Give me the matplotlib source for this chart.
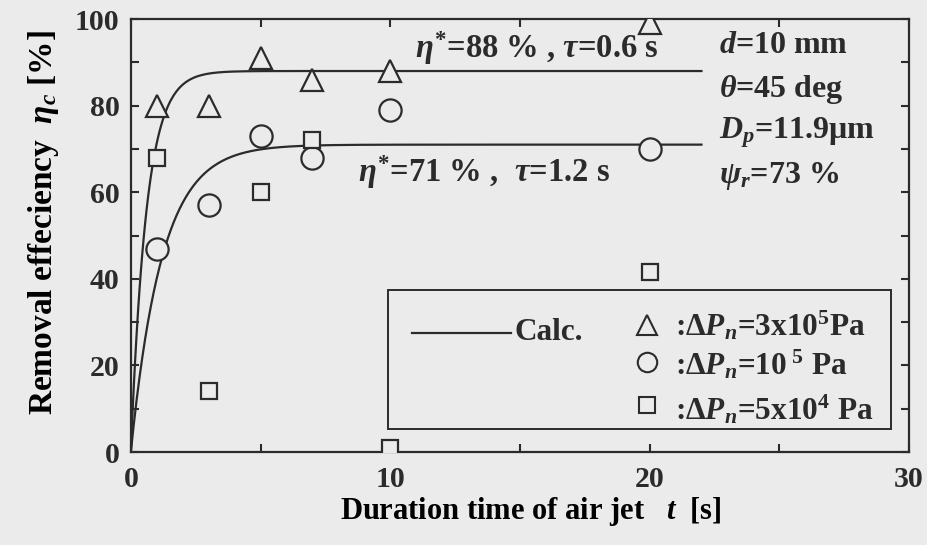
import numpy as np
import matplotlib
matplotlib.use("Agg")
import matplotlib.pyplot as plt
from matplotlib.patches import Rectangle
from matplotlib.ticker import MultipleLocator

# measured removal efficiency, by nozzle pressure difference
t_tri = [1, 3, 5, 7, 10, 20]
eta_tri = [80, 80, 91, 86, 88, 99]      # dPn = 3x10^5 Pa
t_cir = [1, 3, 5, 7, 10, 20]
eta_cir = [47, 57, 73, 68, 79, 70]      # dPn = 10^5 Pa
t_sq = [1, 3, 5, 7, 10, 20]
eta_sq = [68, 14, 60, 72, 1, 41.5]      # dPn = 5x10^4 Pa

# calculated curves eta = eta* (1 - exp(-t / tau))
eta_star = [88, 71]
tau = [0.6, 1.2]
t_calc_end = 22

ink = "#2b2b2b"
paper = "#ebebeb"

plt.rcParams["font.family"] = ["Liberation Serif", "DejaVu Serif"]
plt.rcParams["font.weight"] = "bold"
plt.rcParams["mathtext.fontset"] = "custom"
plt.rcParams["mathtext.rm"] = "Liberation Serif:bold"
plt.rcParams["mathtext.it"] = "Liberation Serif:italic:bold"
plt.rcParams["mathtext.bf"] = "Liberation Serif:bold"
plt.rcParams["text.color"] = ink

fig = plt.figure(figsize=(9.28, 5.45), dpi=100, facecolor=paper)
ax = fig.add_axes([0.141, 0.1706, 0.8385, 0.7944])
ax.set_facecolor(paper)

t = np.linspace(0, t_calc_end, 400)
for es, tc in zip(eta_star, tau):
    ax.plot(t, es * (1 - np.exp(-t / tc)), color=ink, lw=1.6, zorder=2)

mk = dict(ls="none", mfc=paper, mec=ink, mew=1.6, zorder=3)
ax.plot(t_tri, eta_tri, marker="^", ms=16, **mk)
ax.plot(t_cir, eta_cir, marker="o", ms=16, **mk)
ax.plot(t_sq, eta_sq, marker="s", ms=12, **mk)

ax.set_xlim(0, 30)
ax.set_ylim(0, 100)
ax.xaxis.set_major_locator(MultipleLocator(10))
ax.xaxis.set_minor_locator(MultipleLocator(5))
ax.yaxis.set_major_locator(MultipleLocator(20))
ax.yaxis.set_minor_locator(MultipleLocator(10))
ax.tick_params(which="both", direction="in", top=True, right=True,
               length=6, width=1.5, color=ink, labelcolor=ink)
ax.tick_params(axis="x", pad=10, labelsize=21.5)
ax.tick_params(axis="y", pad=8, labelsize=21.5)
for sp in ax.spines.values():
    sp.set_color(ink)
    sp.set_linewidth(1.6)

ax.set_xlabel(r"Duration time of air jet   $t$  [s]", fontsize=22,
              fontweight="bold")
ax.xaxis.set_label_coords(0.514, -0.099)
ax.set_ylabel(r"Removal effeciency  $\eta_c$ [%]", fontsize=24,
              fontweight="bold")
ax.yaxis.set_label_coords(-0.090, 0.529)

ax.text(10.95, 91.0, r"$\eta^{*}$=88 % , $\tau$=0.6 s", fontsize=23.5,
        va="baseline", ha="left")
ax.text(8.75, 62.4, r"$\eta^{*}$=71 % ,  $\tau$=1.2 s", fontsize=23.5,
        va="baseline", ha="left")

cond = [r"$d$=10 mm", r"$\theta$=45 deg", r"$D_p$=11.9μm", r"$\psi_r$=73 %"]
cond_y = [0.921, 0.820, 0.725, 0.621]
for s, yy in zip(cond, cond_y):
    ax.text(0.756, yy, s, transform=ax.transAxes, fontsize=23,
            va="baseline", ha="left")

# legend box
ax.add_patch(Rectangle((0.3305, 0.053), 0.6465, 0.322, transform=ax.transAxes,
                       fill=False, ec=ink, lw=1.4, zorder=4))
ax.plot([0.361, 0.488], [0.275, 0.275], transform=ax.transAxes,
        color=ink, lw=1.6, zorder=4)
ax.text(0.493, 0.275, "Calc.", transform=ax.transAxes, fontsize=22.5,
        va="center", ha="left")
leg_rows = [("^", 15, 0.293, 0.270, r":$\mathit{\Delta}P_n$=3x10$^5$Pa"),
            ("o", 14, 0.208, 0.178, r":$\mathit{\Delta}P_n$=10$^{\ 5}$ Pa"),
            ("s", 11, 0.109, 0.076, r":$\mathit{\Delta}P_n$=5x10$^4$ Pa")]
for m, s, ym, yt, lab in leg_rows:
    ax.plot([0.663], [ym], transform=ax.transAxes, marker=m, ms=s, ls="none",
            mfc=paper, mec=ink, mew=1.5, zorder=4)
    ax.text(0.699, yt, lab, transform=ax.transAxes, fontsize=22.5,
            va="baseline", ha="left")

fig.savefig("out.png", dpi=100, facecolor=paper)
